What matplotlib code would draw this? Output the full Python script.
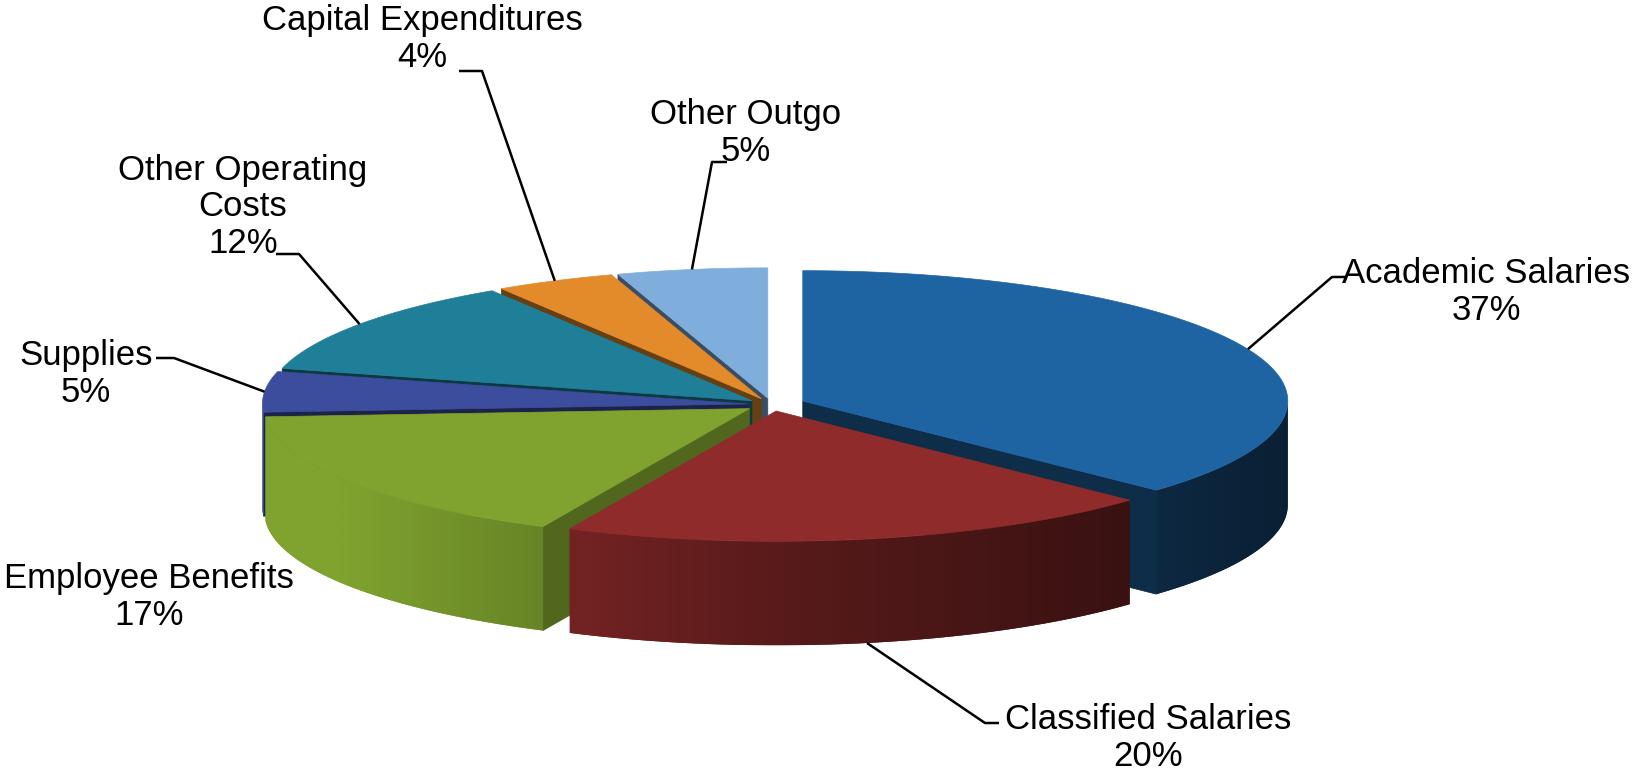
import numpy as np
import matplotlib
matplotlib.use("Agg")
import matplotlib.pyplot as plt
from matplotlib.patches import Polygon
from matplotlib.colors import to_rgb

# ---------------- data ----------------
categories = ["Academic Salaries", "Classified Salaries", "Employee Benefits",
              "Supplies", "Other Operating Costs", "Capital Expenditures", "Other Outgo"]
label_names = ["Academic Salaries", "Classified Salaries", "Employee Benefits",
               "Supplies", "Other Operating\nCosts", "Capital Expenditures", "Other Outgo"]
shares = [37, 20, 17, 5, 12, 4, 5]
colors = ["#1F64A2", "#8F2B2B", "#80A32F", "#3B4D9C", "#1F7F98", "#E38B2B", "#80AEDC"]

# ---------------- layout ----------------
W, H = 1635, 774
CX, CY = 771.6, 404.6          # pie centre (px)
RX, RY = 485.0, 130.3          # ellipse radii of the top face
DEPTH = 104.0                  # thickness of the pie
explode = [0.07, 0.05, 0.055, 0.05, 0.05, 0.05, 0.05]

# label centres (px) and leader polylines (text side, elbow); None = no leader
label_pos = [(1486, 292), (1148, 738), (149, 597), (86, 374), (243, 207), (422, 39), (746, 133)]
leader_pts = [[(1345, 277), (1332, 277)],
              [(999, 723), (985, 723)],
              None,
              [(156, 358), (174, 358)],
              [(276, 254), (299, 254)],
              [(459, 71), (482, 71)],
              [(727, 162), (712, 162)]]
leader_bottom = [False, True, False, False, False, False, False]

plt.rcParams['font.family'] = ['Liberation Sans', 'DejaVu Sans']

fig = plt.figure(figsize=(W / 100, H / 100), dpi=100)
ax = fig.add_axes([0, 0, 1, 1])

total = float(sum(shares))
cum = np.concatenate([[0.0], np.cumsum(shares)])
th1 = 90 - 360 * cum[:-1] / total     # start angle (CCW degrees), clockwise slices
th2 = 90 - 360 * cum[1:] / total
mid = (th1 + th2) / 2


def offset(i):
    m = np.radians(mid[i])
    return explode[i] * RX * np.cos(m), -explode[i] * RY * np.sin(m)


def P(i, th, r=1.0, z=0.0):
    ox, oy = offset(i)
    t = np.radians(th)
    return (CX + ox + RX * r * np.cos(t), CY + oy - RY * r * np.sin(t) + z)


def shade(c, f):
    r, g, b = to_rgb(c)
    f = max(0.0, min(1.0, f))
    return (r * f, g * f, b * f)


def side_factor(theta_rad):
    c = np.cos(theta_rad)
    return 0.62 - 0.3 * c + 0.15 * max(0.0, -c)


# ---- radial cut faces ----
faces = []
for i in range(len(shares)):
    for th, nrm in ((th1[i], th1[i] + 90), (th2[i], th2[i] - 90)):
        if np.sin(np.radians(nrm)) < -1e-6:
            a = P(i, 0, r=0)
            b = P(i, th)
            poly = [a, b, (b[0], b[1] + DEPTH), (a[0], a[1] + DEPTH)]
            f = 0.45 + 0.2 * max(0.0, np.cos(np.radians(nrm)))
            faces.append((np.mean([p[1] for p in poly]), poly, shade(colors[i], f)))
faces.sort(key=lambda t: t[0])
for _, poly, col in faces:
    ax.add_patch(Polygon(poly, closed=True, facecolor=col, edgecolor=col, lw=0.5))

# ---- outer curved sides (gradient clipped to the side shape) ----
sides = []
for i in range(len(shares)):
    lo = max(th2[i], -180.0)
    hi = min(th1[i], 0.0)
    if hi <= lo:
        continue
    ang = np.linspace(hi, lo, 200)
    top = [P(i, a) for a in ang]
    bot = [(p[0], p[1] + DEPTH) for p in top[::-1]]
    poly = top + bot
    sides.append((np.mean([p[1] for p in top]), i, poly, ang))
sides.sort(key=lambda t: t[0])
for _, i, poly, ang in sides:
    xs = [p[0] for p in poly]
    ys = [p[1] for p in poly]
    x0, x1 = min(xs), max(xs)
    y0, y1 = min(ys), max(ys)
    ox, _ = offset(i)
    ncol = max(2, int(x1 - x0) + 1)
    xc = np.linspace(x0, x1, ncol)
    cosv = np.clip((xc - (CX + ox)) / RX, -1, 1)
    thv = -np.arccos(cosv)
    img = np.array([[shade(colors[i], side_factor(t)) for t in thv]])
    midcol = shade(colors[i], side_factor(np.radians((ang[0] + ang[-1]) / 2)))
    patch = Polygon(poly, closed=True, facecolor=midcol, edgecolor='none', lw=0)
    ax.add_patch(patch)
    im = ax.imshow(img, extent=(x0, x1, y1, y0), aspect='auto', interpolation='bilinear', zorder=1)
    im.set_clip_path(patch)

# ---- top faces ----
for i in range(len(shares)):
    ang = np.linspace(th1[i], th2[i], 160)
    pts = [P(i, 0, r=0)] + [P(i, a) for a in ang]
    ax.add_patch(Polygon(pts, closed=True, facecolor=colors[i], edgecolor=colors[i],
                         lw=0.5, zorder=2))

# ---- labels and leaders ----
for i in range(len(shares)):
    x, y = label_pos[i]
    ax.text(x, y, f"{label_names[i]}\n{shares[i]}%", ha='center', va='center',
            multialignment='center', fontsize=25, linespacing=1.12, color='black', zorder=4)
    if leader_pts[i] is not None:
        end = P(i, mid[i], z=DEPTH if leader_bottom[i] else 0.0)
        lx = [p[0] for p in leader_pts[i]] + [end[0]]
        ly = [p[1] for p in leader_pts[i]] + [end[1]]
        ax.plot(lx, ly, color='black', lw=1.8, solid_capstyle='butt', zorder=3)

ax.set_xlim(0, W)
ax.set_ylim(H, 0)
ax.axis('off')

fig.savefig("out.png", dpi=100, facecolor='white')
